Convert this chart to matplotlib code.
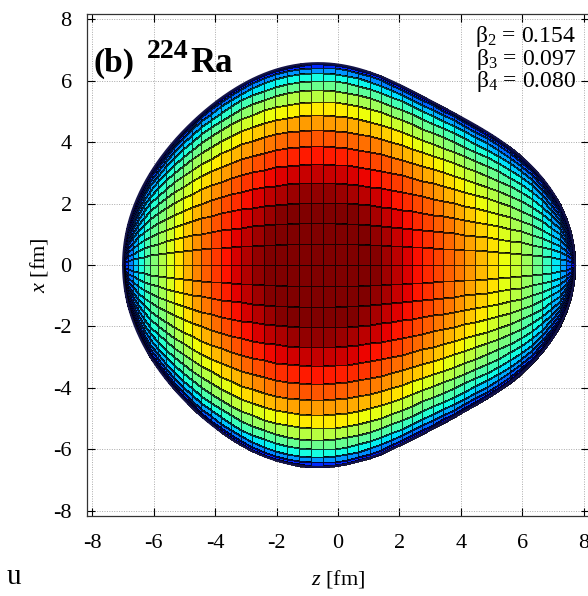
import numpy as np
import matplotlib.pyplot as plt

# deformation parameters of 224Ra
beta_names = ['2', '3', '4']
beta_vals = [0.154, 0.097, 0.080]
R0 = 6.69        # fm
z_scale = 0.943
z_shift = -0.1   # fm, centre-of-mass shift
n_theta = 50     # mesh divisions along the symmetry axis
n_phi = 30       # mesh divisions around it (upper half)
colour_top = 0.95   # fraction of the maximum height that maps to the darkest red

tick_vals = [-8, -6, -4, -2, 0, 2, 4, 6, 8]

plt.rcParams['font.family'] = ['Liberation Serif', 'DejaVu Serif']
plt.rcParams['mathtext.fontset'] = 'custom'
plt.rcParams['mathtext.rm'] = 'Liberation Serif'
plt.rcParams['mathtext.it'] = 'Liberation Serif:italic'
plt.rcParams['mathtext.bf'] = 'Liberation Serif:bold'


def radius(theta):
    b2, b3, b4 = beta_vals
    c = np.cos(theta)
    y20 = np.sqrt(5 / (4 * np.pi)) * (3 * c**2 - 1) / 2
    y30 = np.sqrt(7 / (4 * np.pi)) * (5 * c**3 - 3 * c) / 2
    y40 = np.sqrt(9 / (4 * np.pi)) * (35 * c**4 - 30 * c**2 + 3) / 8
    return R0 * (1 + b2 * y20 + b3 * y30 + b4 * y40)


theta = np.linspace(0, np.pi, n_theta + 1)
phi = np.linspace(0, np.pi, n_phi + 1)
T, P = np.meshgrid(theta, phi)
r = radius(T)
Z = r * np.cos(T) * z_scale + z_shift
X = r * np.sin(T) * np.cos(P)
H = r * np.sin(T) * np.sin(P)   # height towards the viewer
Hc = (H[:-1, :-1] + H[1:, :-1] + H[:-1, 1:] + H[1:, 1:]) / 4

fig = plt.figure(figsize=(5.88, 5.96), dpi=100)
ax = fig.add_axes([87 / 588, 80 / 596, 502 / 588, 502 / 596])

ax.pcolormesh(Z, X, Hc, cmap='jet', vmin=0, vmax=colour_top * Hc.max(),
              shading='flat', edgecolors=(0, 0, 0, 0.75), linewidth=0.55,
              zorder=2)

# outline of the shape
th = np.linspace(0, np.pi, 400)
rr = radius(th)
zz = rr * np.cos(th) * z_scale + z_shift
ax.plot(zz, rr * np.sin(th), color='#14144a', lw=1.4, zorder=3)
ax.plot(zz, -rr * np.sin(th), color='#14144a', lw=1.4, zorder=3)

lim = 8.163
ax.set_xlim(-lim, lim)
ax.set_ylim(-lim, lim)
ax.set_xticks(tick_vals)
ax.set_yticks(tick_vals)
ax.set_xticklabels([str(t) for t in tick_vals])
ax.set_yticklabels([str(t) for t in tick_vals])
ax.tick_params(direction='in', length=6, width=0.8, top=True, right=True,
               labelsize=16)
ax.tick_params(axis='x', pad=13)
ax.tick_params(axis='y', pad=11)
ax.grid(True, color='#aaaaaa', linestyle=(0, (1, 1.5)), linewidth=0.7, zorder=0)
ax.set_axisbelow(True)
for sp in ax.spines.values():
    sp.set_linewidth(0.9)
    sp.set_color('#333333')

ax.set_xlabel(r'$z$ [fm]', fontsize=16, labelpad=11)
ax.set_ylabel(r'$x$ [fm]', fontsize=16, labelpad=2)

# panel label (b) 224Ra
ax.text(0.012, 0.8845, '(b)', transform=ax.transAxes,
        fontsize=24, fontweight='bold', zorder=5)
ax.text(0.119, 0.913, '224', transform=ax.transAxes,
        fontsize=20, fontweight='bold', zorder=5)
ax.text(0.205, 0.8845, 'Ra', transform=ax.transAxes,
        fontsize=25, fontweight='bold', zorder=5)

for i, (n, v) in enumerate(zip(beta_names, beta_vals)):
    ax.text(0.975, 0.955 - i * 0.045, 'β$_%s$ = %.3f' % (n, v),
            transform=ax.transAxes, fontsize=17, ha='right', va='center',
            zorder=5)

fig.text(0.012, 0.02, 'u', fontsize=21)

fig.savefig('out.png', dpi=100)
